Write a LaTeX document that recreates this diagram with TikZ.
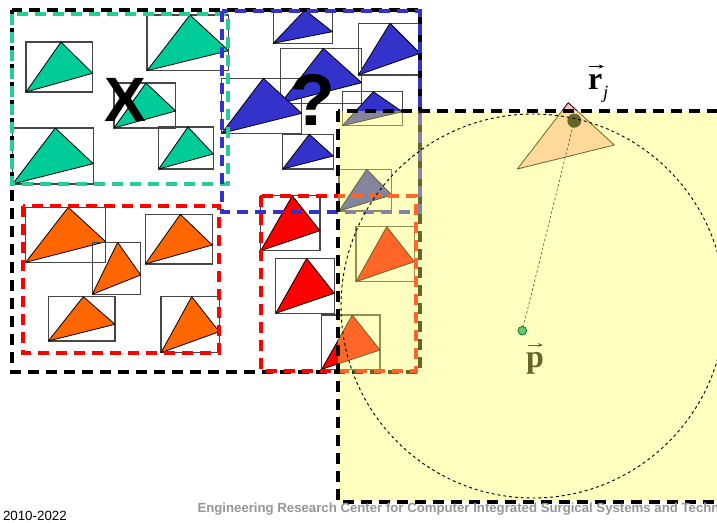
\documentclass[tikz,border=0pt]{standalone}
\usepackage{fontspec}
\setmainfont{Liberation Sans}
\newfontfamily\sansb{Liberation Sans}
\newfontfamily\serifb{Liberation Serif}
\usetikzlibrary{arrows.meta,calc}
\definecolor{tgreen}{RGB}{0,204,153}
\definecolor{tblue}{RGB}{51,51,204}
\definecolor{torange}{RGB}{255,102,0}
\definecolor{tred}{RGB}{255,0,0}
\definecolor{tpink}{RGB}{255,192,192}
\definecolor{fgreen}{RGB}{40,204,150}
\definecolor{ylw}{RGB}{255,255,98}
\definecolor{pgreen}{RGB}{90,205,120}
\definecolor{footgray}{RGB}{150,150,150}
\definecolor{boxgray}{RGB}{70,70,70}
\tikzset{
  boxline/.style={draw=boxgray,line width=0.9pt},
  triline/.style={draw=black,line width=0.6pt,line join=round},
  frame/.style={line width=2.8pt,dash pattern=on 8.5pt off 5pt},
  lab/.style={inner sep=0pt,outer sep=0pt},
}
\newcommand\tribox[7]{%
  \draw[boxline] (#2,#3) rectangle (#4,#5);
  \filldraw[fill=#1,triline] (#2,#5) -- (#6,#3) -- (#4,#7) -- cycle;}
\begin{document}
\begin{tikzpicture}[x=0.75pt,y=-0.75pt]
\path[use as bounding box,clip] (0,0) rectangle (717,522);
\fill[white] (0,0) rectangle (717,522);
% green items
\tribox{tgreen}{26}{42}{92.7}{92}{61}{73.3}
\tribox{tgreen}{147}{15}{228.7}{70.7}{190}{50.7}
\tribox{tgreen}{114}{83}{175.7}{128}{146}{111}
\tribox{tgreen}{12.7}{128}{93.3}{184}{55.3}{163.7}
\tribox{tgreen}{158.7}{127}{213.3}{169}{188}{154}
% blue items
\tribox{tblue}{273.3}{10}{332.3}{43.3}{305}{31.7}
\tribox{tblue}{358.3}{23.3}{420}{75}{390}{53.3}
\tribox{tblue}{280.7}{48.3}{361.7}{103.3}{323.3}{82.7}
\tribox{tblue}{221.7}{78.3}{301.7}{133.3}{263.3}{113.3}
\tribox{tblue}{342.3}{91.7}{402.3}{125.7}{373.3}{111.7}
\tribox{tblue}{282.7}{134.3}{333.3}{169}{309.3}{156}
\tribox{tblue}{339}{169.3}{391.7}{211}{366.7}{195}
% orange items
\tribox{torange}{25.7}{207.3}{105.7}{262.3}{68.3}{241.7}
\tribox{torange}{92.3}{242.3}{140.7}{294.3}{117.7}{275}
\tribox{torange}{145.3}{214.3}{212.3}{264}{180.3}{245}
\tribox{torange}{48.3}{296.7}{115}{341}{83.3}{324.3}
\tribox{torange}{161}{296.7}{219.3}{352.7}{191.7}{331.7}
% red items
\tribox{tred}{260.7}{195.7}{320}{250.7}{292.3}{230.7}
\tribox{tred}{275.7}{258.3}{334.3}{313.3}{306.7}{293.3}
\tribox{tred}{321.7}{315}{380}{369.3}{352.3}{350}
\tribox{tred}{356}{226.7}{414.3}{281.7}{386.7}{261.7}
% dashed frames
\draw[frame,black] (12,10) rectangle (420,372);
\draw[frame,fgreen] (12,14) rectangle (228,184);
\draw[frame,tblue] (222,11) rectangle (420,212);
\draw[frame,tred] (23,206) rectangle (219,353);
\draw[frame,tred] (261,196) rectangle (416,371);
% big marks
\node[lab,font=\sansb\bfseries\fontsize{47}{47}\selectfont] (X) at (125,100) {X};
\node[lab,font=\sansb\bfseries\fontsize{55}{55}\selectfont] (Q) at (313,100) {?};
% r_j triangle and p (under the yellow layer)
\filldraw[fill=tpink,draw=black,line width=0.6pt,line join=round]
  (568.3,102.7) -- (614.3,145) -- (517.3,169) -- cycle;
\node[circle,fill=black,minimum size=10.5pt,inner sep=0pt] (rj) at (574.3,120.7) {};
\node[circle,minimum size=6pt,inner sep=0pt] (pd) at (522.3,330.7) {};
\draw[black,line width=0.5pt,dash pattern=on 2pt off 1.5pt] (rj.center) -- (pd);
\node[lab,anchor=base west,font=\serifb\bfseries\fontsize{24}{24}\selectfont] (pl) at (526,367) {p};
\draw[black,line width=0.5pt,-{Stealth[length=4pt,width=3pt]}]
  ($(pl.base west)+(2,-22)$) -- ($(pl.base west)+(17,-22)$);
% yellow layer
\fill[ylw,opacity=0.4] (338,111) rectangle (740,502);
\draw[frame,black] (338,111) rectangle (740,502);
\draw[black,line width=0.7pt,dash pattern=on 2.2pt off 2.2pt] (533,306) circle[radius=192];
\node[circle,fill=pgreen,draw=green!40!black,line width=0.5pt,minimum size=6.5pt,inner sep=0pt] at (pd) {};
% r_j label
\node[lab,anchor=base west,font=\serifb\bfseries\fontsize{24}{24}\selectfont] (rl) at (588,89) {r};
\node[lab,anchor=base west,font=\serifb\itshape\fontsize{14}{14}\selectfont] (jl) at (603,98) {j};
\draw[black,line width=0.5pt,-{Stealth[length=4pt,width=3pt]}]
  ($(rl.base west)+(1,-22.5)$) -- ($(rl.base west)+(16,-22.5)$);
% footer
\node[lab,anchor=base west,font=\fontsize{10}{10}\selectfont] (yr) at (3,520.5) {2010-2022};
\node[lab,anchor=base west,text=footgray,font=\bfseries\fontsize{9.9}{9.9}\selectfont] (ft) at (197.5,512.7)
  {Engineering Research Center for Computer Integrated Surgical Systems and Technology};
\end{tikzpicture}
\end{document}
